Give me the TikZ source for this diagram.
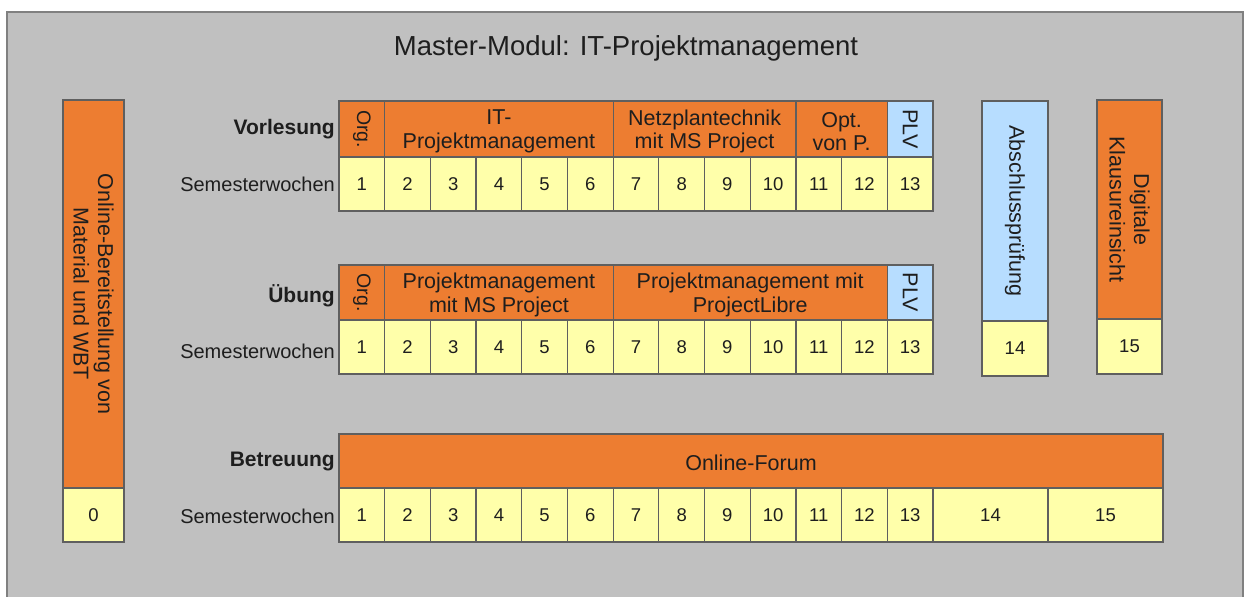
\documentclass[tikz,border=0pt]{standalone}
\usepackage{fontspec}
\setmainfont{Liberation Sans}
\definecolor{bg}{HTML}{C0C0C0}
\definecolor{org}{HTML}{ED7D31}
\definecolor{ylw}{HTML}{FFFFAA}
\definecolor{blu}{HTML}{B7DDFF}
\definecolor{bord}{HTML}{5F5F5F}
\definecolor{frm}{HTML}{808080}
\definecolor{txt}{HTML}{1E1E1E}
\begin{document}
\begin{tikzpicture}[x=1pt,y=-1pt,
  box/.style={draw=bord, line width=1.2pt, inner sep=0pt, outer sep=0pt, anchor=north west,
    font=\fontsize{18.5}{22}\selectfont, text=txt, align=center},
  wk/.style={box, fill=ylw, minimum width=45.692pt, minimum height=54pt},
  hdr/.style={box, fill=org},
  plvbox/.style={box, fill=blu},
  htxt/.style={inner sep=0pt, yshift=-2.5pt, font=\fontsize{21.5}{23.5}\selectfont, text=txt, align=center},
  rot/.style={rotate=-90, inner sep=0pt, font=\fontsize{21.5}{24.5}\selectfont, text=txt, align=center},
  rots/.style={rot, font=\fontsize{19.5}{23}\selectfont},
  lbl/.style={anchor=east, inner sep=0pt, font=\fontsize{20}{24}\selectfont, text=txt},
  blbl/.style={anchor=east, inner sep=0pt, font=\fontsize{21}{25}\selectfont\bfseries, text=txt},
]
\useasboundingbox (0,0) rectangle (1248,597);
\fill[white] (0,0) rectangle (1248,597);
\draw[frm, fill=bg, line width=2pt] (7,12) rectangle (1243,620);

\node[font=\fontsize{27.5}{32}\selectfont, text=txt] (title) at (626,48) {Master-Modul: IT-Projektmanagement};

% left box
\node[hdr, minimum width=61pt, minimum height=388pt] (lb) at (63,100) {};
\node[wk, minimum width=61pt, minimum height=54pt] (lbw) at (63,488) {0};
\node[rot] (lbt) at (lb.center) {Online-Bereitstellung von\\Material und WBT};

% Vorlesung
\node[blbl] (vl) at (335,129) {Vorlesung};
\node[lbl] (vs) at (335,184) {Semesterwochen};
\node[hdr, minimum width=45.692pt, minimum height=56pt] (vh1) at (339,101) {};
\node[rots] (vh1t) at (vh1.center) {Org.};
\node[hdr, minimum width=228.46pt, minimum height=56pt] (vh2) at (384.692,101) {};
\node[htxt] (vh2t) at (vh2.center) {IT-\\Projektmanagement};
\node[hdr, minimum width=182.77pt, minimum height=56pt] (vh3) at (613.15,101) {};
\node[htxt] (vh3t) at (vh3.center) {Netzplantechnik\\mit MS Project};
\node[hdr, minimum width=91.38pt, minimum height=56pt] (vh4) at (795.92,101) {};
\node[htxt] (vh4t) at (vh4.center) {Opt.\\von P.};
\node[plvbox, minimum width=45.692pt, minimum height=56pt] (vh5) at (887.31,101) {};
\node[rot] (vh5t) at (vh5.center) {PLV};
\foreach \i in {1,...,13} {
  \node[wk] (vw\i) at ({339+(\i-1)*45.692},157) {\i};
}

% Uebung
\node[blbl] (ul) at (335,296) {Übung};
\node[lbl] (us) at (335,351) {Semesterwochen};
\node[hdr, minimum width=45.692pt, minimum height=55pt] (uh1) at (339,265) {};
\node[rots] (uh1t) at (uh1.center) {Org.};
\node[hdr, minimum width=228.46pt, minimum height=55pt] (uh2) at (384.692,265) {};
\node[htxt] (uh2t) at (uh2.center) {Projektmanagement\\mit MS Project};
\node[hdr, minimum width=274.15pt, minimum height=55pt] (uh3) at (613.15,265) {};
\node[htxt] (uh3t) at (uh3.center) {Projektmanagement mit\\ProjectLibre};
\node[plvbox, minimum width=45.692pt, minimum height=55pt] (uh4) at (887.31,265) {};
\node[rot] (uh4t) at (uh4.center) {PLV};
\foreach \i in {1,...,13} {
  \node[wk] (uw\i) at ({339+(\i-1)*45.692},320) {\i};
}

% Abschlusspruefung
\node[plvbox, minimum width=66pt, minimum height=220pt] (ab) at (982,101) {};
\node[rot] (abt) at (ab.center) {Abschlussprüfung};
\node[wk, minimum width=66pt, minimum height=55pt] (abw) at (982,321) {14};

% Digitale Klausureinsicht
\node[hdr, minimum width=65pt, minimum height=219pt] (dk) at (1097,100) {};
\node[rot] (dkt) at (dk.center) {Digitale\\Klausureinsicht};
\node[wk, minimum width=65pt, minimum height=55pt] (dkw) at (1097,319) {15};

% Betreuung
\node[blbl] (bl) at (335,461) {Betreuung};
\node[lbl] (bs) at (335,516) {Semesterwochen};
\node[hdr, minimum width=824pt, minimum height=54pt] (bh) at (339,434) {};
\node[htxt, yshift=1pt] (bht) at (bh.center) {Online-Forum};
\foreach \i in {1,...,13} {
  \node[wk] (bw\i) at ({339+(\i-1)*45.692},488) {\i};
}
\node[wk, minimum width=115pt] (bw14) at (933,488) {14};
\node[wk, minimum width=115pt] (bw15) at (1048,488) {15};
\end{tikzpicture}
\end{document}
